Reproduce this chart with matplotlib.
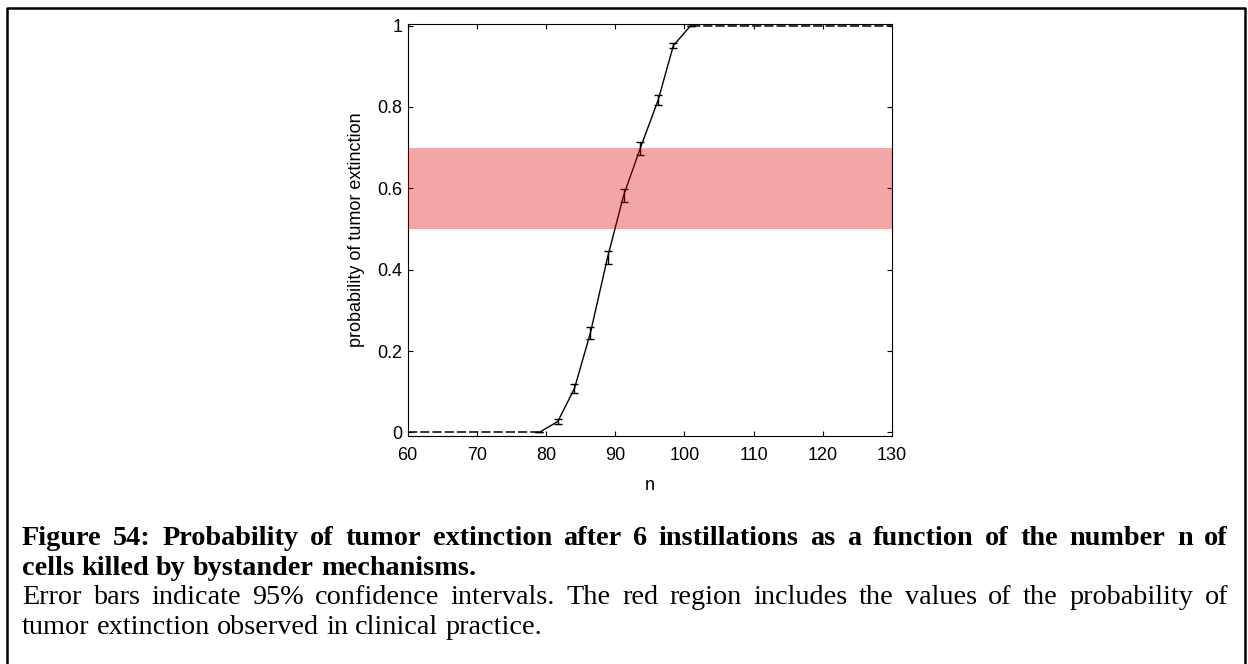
import matplotlib
matplotlib.use("Agg")
import matplotlib.pyplot as plt
from matplotlib.lines import Line2D

# data
n_vals = [79, 81.7, 84.1, 86.4, 88.9, 91.2, 93.6, 96.2, 98.4, 100.9]
p_vals = [0.0, 0.027, 0.108, 0.244, 0.431, 0.582, 0.698, 0.817, 0.951, 1.0]
p_err = [0.0, 0.006, 0.010, 0.015, 0.016, 0.016, 0.015, 0.012, 0.007, 0.0]
n_low = [60, 79]
p_low = [0, 0]
n_high = [100.9, 130]
p_high = [1, 1]
band = [0.5, 0.7]

x_ticks = [60, 70, 80, 90, 100, 110, 120, 130]
y_ticks = [0, 0.2, 0.4, 0.6, 0.8, 1]
y_ticklabels = ["0", "0.2", "0.4", "0.6", "0.8", "1"]

caption = [
    ("Figure 54: Probability of tumor extinction after 6 instillations as a function of the number n of", "bold", True),
    ("cells killed by bystander mechanisms.", "bold", False),
    ("Error bars indicate 95% confidence intervals. The red region includes the values of the probability of", "normal", True),
    ("tumor extinction observed in clinical practice.", "normal", False),
]

W, H = 1248, 664
fig = plt.figure(figsize=(W / 100, H / 100), dpi=100)
ax = fig.add_axes([407.7 / W, 1 - 435.7 / H, (892 - 407.7) / W, (435.7 - 24) / H])

sans = ["Liberation Sans", "DejaVu Sans"]
serif = ["Liberation Serif", "DejaVu Serif"]

ax.axhspan(band[0], band[1], color="#E20000", alpha=0.35, lw=0, zorder=3)
ax.plot(n_low, p_low, color="black", lw=1.1, ls=(0, (6, 2)), zorder=2)
ax.plot(n_high, p_high, color="black", lw=1.1, ls=(0, (6, 2)), zorder=2)
ax.errorbar(n_vals, p_vals, yerr=p_err, color="black", lw=1.0, capsize=3.2,
            elinewidth=1.0, capthick=1.0, zorder=2)

ax.set_xlim(60, 130)
ax.set_ylim(-0.008, 1.004)
ax.set_xticks(x_ticks)
ax.set_xticklabels([str(t) for t in x_ticks], fontfamily=sans, fontsize=13)
ax.set_yticks(y_ticks)
ax.set_yticklabels(y_ticklabels, fontfamily=sans, fontsize=13)
ax.tick_params(direction="in", top=True, right=True, length=3.5, width=0.8)
ax.tick_params(axis="x", pad=8)
ax.tick_params(axis="y", pad=4)
for s in ax.spines.values():
    s.set_linewidth(0.8)

ax.set_xlabel("n", fontfamily=sans, fontsize=13)
ax.set_ylabel("probability of tumor extinction", fontfamily=sans, fontsize=13)
ax.xaxis.set_label_coords(0.5, -0.12)
ax.yaxis.set_label_coords(-0.105, 0.5)
ax.xaxis.label.set_va("center")
ax.yaxis.label.set_va("center")

# outer frame (left, top, right)
fx = lambda px: px / W
fy = lambda py: 1 - py / H
fig.add_artist(Line2D([fx(6.5), fx(6.5), fx(1245), fx(1245)],
                      [0, fy(8), fy(8), 0], transform=fig.transFigure,
                      color="black", lw=1.8))

# caption, justified lines like the document
x0, x1 = 22, 1228
baselines = [545, 575, 604, 634]
cap_size = 20.3
renderer = fig.canvas.get_renderer()


def text_width(s, size, weight):
    t = fig.text(0, 0, s, fontfamily=serif, fontsize=size, fontweight=weight)
    w = t.get_window_extent(renderer).width
    t.remove()
    return w


for (line, weight, justify), yb in zip(caption, baselines):
    words = line.split(" ")
    texts = [fig.text(0, fy(yb), w, fontfamily=serif, fontsize=cap_size,
                      fontweight=weight, va="baseline", ha="left")
             for w in words]
    widths = [t.get_window_extent(renderer).width for t in texts]
    sp = text_width("a b", cap_size, weight) - text_width("ab", cap_size, weight)
    if justify:
        gap = (x1 - x0 - sum(widths)) / (len(words) - 1)
    else:
        gap = sp
    x = x0
    for t, w in zip(texts, widths):
        t.set_x(fx(x))
        x += w + gap

fig.savefig("out.png", dpi=100)
